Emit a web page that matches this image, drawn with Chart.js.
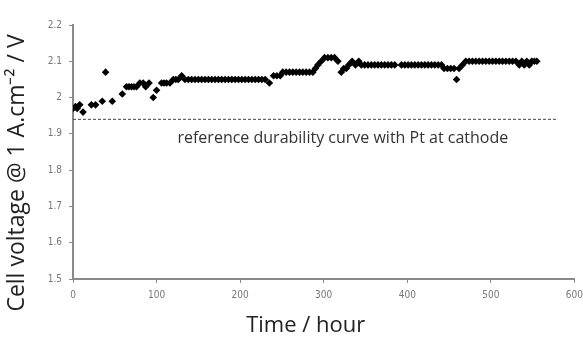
<!DOCTYPE html>
<html>
<head>
<meta charset="utf-8">
<script src="https://cdn.jsdelivr.net/npm/chart.js@4.4.1/dist/chart.umd.min.js"></script>
<style>
  html, body { margin: 0; padding: 0; background: #fff; overflow: hidden; }
  #wrap { width: 589px; height: 340px; }
</style>
</head>
<body>
<div id="wrap"><canvas id="durability"></canvas></div>
<script>
"use strict";

// Zeit in Stunden
const hours = [
    0, 3, 5, 8, 12, 22, 27, 35, 39, 47, 59, 64, 67, 70, 73, 76, 80, 84, 87, 91,
    96, 100, 106, 109, 112, 116, 120, 123, 126, 130, 134,
    138, 142, 146, 150, 154, 158, 162, 166, 170, 174, 178, 182, 186, 190, 194,
    198, 202, 206, 210, 214, 218, 222, 226, 230,
    235, 240, 244, 248,
    251, 255, 259, 263, 267, 271, 275, 279, 283, 287,
    290, 293, 297, 301, 305, 309, 313, 317, 321, 324, 327, 330, 334, 338, 342,
    345, 349, 353, 357, 361, 365, 369, 373, 377, 381, 385,
    393, 397, 401, 405, 409, 413, 417, 421, 425, 429, 433, 437, 441,
    444, 448, 452, 456, 459, 462, 466,
    470, 474, 478, 482, 486, 490, 494, 498, 502, 506, 510, 514, 518, 522, 526, 530,
    534, 537, 540, 543, 546, 549, 552, 555
];

// Zellspannung (V)
const cellVoltage = [
    1.97, 1.975, 1.97, 1.98, 1.96, 1.98, 1.98, 1.99, 2.07, 1.99, 2.01, 2.03, 2.03, 2.03, 2.03, 2.03, 2.04, 2.04, 2.03, 2.04,
    2.00, 2.02, 2.04, 2.04, 2.04, 2.04, 2.05, 2.05, 2.05, 2.06, 2.05,
    2.05, 2.05, 2.05, 2.05, 2.05, 2.05, 2.05, 2.05, 2.05, 2.05, 2.05, 2.05, 2.05, 2.05, 2.05,
    2.05, 2.05, 2.05, 2.05, 2.05, 2.05, 2.05, 2.05, 2.05,
    2.04, 2.06, 2.06, 2.06,
    2.07, 2.07, 2.07, 2.07, 2.07, 2.07, 2.07, 2.07, 2.07, 2.07,
    2.08, 2.09, 2.10, 2.11, 2.11, 2.11, 2.11, 2.10, 2.07, 2.08, 2.08, 2.09, 2.10, 2.09, 2.10,
    2.09, 2.09, 2.09, 2.09, 2.09, 2.09, 2.09, 2.09, 2.09, 2.09, 2.09,
    2.09, 2.09, 2.09, 2.09, 2.09, 2.09, 2.09, 2.09, 2.09, 2.09, 2.09, 2.09, 2.09,
    2.08, 2.08, 2.08, 2.08, 2.05, 2.08, 2.09,
    2.10, 2.10, 2.10, 2.10, 2.10, 2.10, 2.10, 2.10, 2.10, 2.10, 2.10, 2.10, 2.10, 2.10, 2.10, 2.10,
    2.09, 2.10, 2.09, 2.10, 2.09, 2.10, 2.10, 2.10
];

// Referenzkurve (Pt an der Kathode)
const referenceHours = [0, 580];
const referenceVoltage = [1.94, 1.94];
const referenceLabel = "reference durability curve with Pt at cathode";
const referenceLabelPos = [125, 1.886];

// Achsen
const xTicks = [0, 100, 200, 300, 400, 500, 600];
const yTicks = [1.5, 1.6, 1.7, 1.8, 1.9, 2.0, 2.1, 2.2];
const xTitle = "Time / hour";
const yTitle = "Cell voltage @ 1 A.cm\u207B\u00B2 / V";

const tickFont = { family: "'Liberation Sans Narrow', 'DejaVu Sans Condensed', sans-serif", size: 10 };
const axisColor = "#8a8a8a";

// Achsentitel und Beschriftung selbst zeichnen
const labelsPlugin = {
    id: "labels",
    afterDraw(chart) {
        const c = chart.ctx;
        const area = chart.chartArea;
        const xs = chart.scales.x;
        const ys = chart.scales.y;
        c.save();
        c.fillStyle = "#222";
        c.textAlign = "center";
        c.textBaseline = "middle";
        c.font = "22px 'Open Sans', sans-serif";
        c.fillText(xTitle, (area.left + area.right) / 2 - 18, 326);
        c.font = "23px 'Open Sans', sans-serif";
        c.translate(17, (area.top + area.bottom) / 2 + 21);
        c.rotate(-Math.PI / 2);
        c.fillText(yTitle, 0, 0);
        c.restore();

        c.save();
        c.fillStyle = "#333";
        c.font = "16px 'Open Sans', sans-serif";
        c.textAlign = "left";
        c.textBaseline = "middle";
        c.fillText(referenceLabel, xs.getPixelForValue(referenceLabelPos[0]), ys.getPixelForValue(referenceLabelPos[1]));
        c.restore();
    }
};

const points = hours.map((h, i) => ({ x: h, y: cellVoltage[i] }));
const refPoints = referenceHours.map((h, i) => ({ x: h, y: referenceVoltage[i] }));

new Chart(document.getElementById("durability"), {
    type: "scatter",
    data: {
        datasets: [
            {
                label: "Cell voltage",
                data: points,
                pointStyle: "rectRot",
                pointRadius: 3.8,
                backgroundColor: "#000",
                borderColor: "#000",
                borderWidth: 0
            },
            {
                label: "Reference",
                type: "line",
                data: refPoints,
                borderColor: "#444",
                borderWidth: 1,
                borderDash: [3, 2],
                pointRadius: 0,
                fill: false
            }
        ]
    },
    options: {
        responsive: true,
        maintainAspectRatio: false,
        animation: false,
        layout: { padding: { left: 0, right: 0, top: 25, bottom: 0 } },
        plugins: {
            legend: { display: false },
            tooltip: { enabled: false }
        },
        scales: {
            x: {
                type: "linear",
                min: 0,
                max: 600,
                afterBuildTicks: (s) => { s.ticks = xTicks.map(v => ({ value: v })); },
                afterFit: (s) => { s.height = 61; },
                ticks: { font: tickFont, color: "#777", padding: 6 },
                grid: { drawOnChartArea: false, drawTicks: true, tickLength: 4, color: axisColor },
                border: { color: axisColor, width: 2 }
            },
            y: {
                type: "linear",
                min: 1.5,
                max: 2.2,
                afterBuildTicks: (s) => { s.ticks = yTicks.map(v => ({ value: v })); },
                afterFit: (s) => { s.width = 73; },
                ticks: {
                    font: tickFont,
                    color: "#777",
                    padding: 7,
                    callback: (v) => String(Math.round(v * 10) / 10)
                },
                grid: { drawOnChartArea: false, drawTicks: true, tickLength: 4, color: axisColor },
                border: { color: axisColor, width: 2 }
            }
        }
    },
    plugins: [labelsPlugin]
});
</script>
</body>
</html>
